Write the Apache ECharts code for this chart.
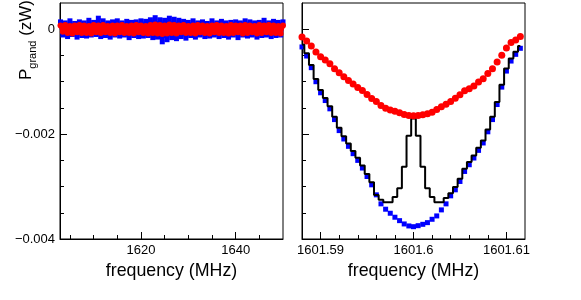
<!DOCTYPE html>
<html>
<head>
<meta charset="utf-8">
<script src="https://cdn.jsdelivr.net/npm/echarts@6/dist/echarts.min.js"></script>
<style>html,body{margin:0;padding:0;background:#fff;}#c{width:581px;height:300px;}</style>
</head>
<body>
<div id="c"></div>
<script>
// ---- data ----
const leftStart = 1603, leftStep = 0.5; // frequency sampling of left panel (MHz)
const blueLeft = [0.00014,-0.00011,0.00012,-0.00014,0.00016,-0.00010,0.00011,-0.00015,0.00014,-0.00012,
 0.00012,-0.00013,0.00017,-0.00011,0.00013,-0.00010,0.00021,-0.00014,0.00016,-0.00012,
 0.00012,-0.00015,0.00014,-0.00011,0.00016,-0.00013,0.00012,-0.00011,0.00015,-0.00016,
 0.00013,-0.00012,0.00014,-0.00014,0.00016,-0.00013,0.00015,-0.00012,0.00018,-0.00016,
 0.00022,-0.00015,0.00018,-0.00024,0.00017,-0.00020,0.00021,-0.00016,0.00019,-0.00018,
 0.00017,-0.00014,0.00015,-0.00017,0.00013,-0.00012,0.00016,-0.00015,0.00012,-0.00011,
 0.00014,-0.00014,0.00011,-0.00013,0.00016,-0.00011,0.00012,-0.00014,0.00015,-0.00012,
 0.00012,-0.00015,0.00013,-0.00011,0.00014,-0.00016,0.00012,-0.00011,0.00016,-0.00013,
 0.00014,-0.00011,0.00012,-0.00015,0.00013,-0.00012,0.00017,-0.00011,0.00012,-0.00014,
 0.00015,-0.00012,0.00013,-0.00011,0.00014];
const redLeft = [0.00007,-0.00005,0.00008,-0.00007,0.00006,-0.00008,0.00007,-0.00006,0.00008,-0.00007,
 0.00007,-0.00007,0.00006,-0.00008,0.00008,-0.00006,0.00007,-0.00007,0.00008,-0.00006,
 0.00006,-0.00007,0.00007,-0.00008,0.00007,-0.00006,0.00008,-0.00007,0.00006,-0.00007,
 0.00007,-0.00008,0.00008,-0.00006,0.00007,-0.00007,0.00006,-0.00008,0.00008,-0.00007,
 0.00009,-0.00008,0.00008,-0.00009,0.00007,-0.00008,0.00009,-0.00007,0.00008,-0.00008,
 0.00007,-0.00006,0.00008,-0.00007,0.00006,-0.00007,0.00007,-0.00008,0.00008,-0.00006,
 0.00007,-0.00007,0.00006,-0.00008,0.00007,-0.00006,0.00008,-0.00007,0.00007,-0.00007,
 0.00006,-0.00008,0.00008,-0.00007,0.00007,-0.00006,0.00007,-0.00008,0.00008,-0.00007,
 0.00007,-0.00006,0.00006,-0.00008,0.00008,-0.00007,0.00007,-0.00006,0.00008,-0.00007,
 0.00007,-0.00007,0.00006,-0.00008,0.00007];

const freqRight = [1601.588,1601.5885,1601.589,1601.5895,1601.59,1601.5905,1601.591,1601.5915,1601.592,1601.5925,
 1601.593,1601.5935,1601.594,1601.5945,1601.595,1601.5955,1601.596,1601.5965,1601.597,1601.5975,
 1601.598,1601.5985,1601.599,1601.5995,1601.6,1601.6005,1601.601,1601.6015,1601.602,1601.6025,
 1601.603,1601.6035,1601.604,1601.6045,1601.605,1601.6055,1601.606,1601.6065,1601.607,1601.6075,
 1601.608,1601.6085,1601.609,1601.6095,1601.61,1601.6105,1601.611,1601.6115];
const redRight = [-0.000147,-0.000223,-0.00032,-0.000434,-0.000523,-0.000587,-0.000657,-0.000753,-0.000829,-0.000906,
 -0.000976,-0.001046,-0.00111,-0.001168,-0.001244,-0.00132,-0.001378,-0.001455,-0.001506,-0.001538,
 -0.001563,-0.001595,-0.001627,-0.001646,-0.001652,-0.001646,-0.001633,-0.001614,-0.001582,-0.001531,
 -0.00148,-0.00143,-0.001378,-0.001314,-0.00125,-0.001174,-0.001136,-0.001085,-0.001008,-0.000944,
 -0.000842,-0.000753,-0.000625,-0.000498,-0.000357,-0.000255,-0.000204,-0.00014];
const blueRight = [-0.000338,-0.000511,-0.000733,-0.001001,-0.001212,-0.00136,-0.001518,-0.001723,-0.001933,-0.002093,
 -0.002233,-0.002373,-0.002501,-0.002647,-0.002808,-0.002967,-0.003158,-0.00333,-0.003432,-0.003509,
 -0.003585,-0.00365,-0.003713,-0.003751,-0.003765,-0.003746,-0.00372,-0.003688,-0.003624,-0.00356,
 -0.003445,-0.00333,-0.003177,-0.003062,-0.002903,-0.002712,-0.002584,-0.002456,-0.00231,-0.002169,
 -0.001956,-0.001723,-0.001436,-0.001104,-0.000798,-0.000607,-0.000479,-0.000364];
const blackRight = [-0.00029,-0.00046,-0.00068,-0.00095,-0.00116,-0.00131,-0.00147,-0.00167,-0.00188,-0.00204,
 -0.00218,-0.00232,-0.00245,-0.0026,-0.00276,-0.00292,-0.00316,-0.00325,-0.0033,-0.0033,
 -0.0032,-0.00303,-0.00262,-0.00203,-0.0017,-0.00203,-0.00262,-0.00303,-0.0032,-0.0033,
 -0.0033,-0.00322,-0.00313,-0.00301,-0.00285,-0.00266,-0.00253,-0.00241,-0.00226,-0.00212,
 -0.00191,-0.00167,-0.00139,-0.00106,-0.00075,-0.00056,-0.00043,-0.00032];

const leftMajorX = [1620, 1640];
const leftMinorX = [1605, 1610, 1615, 1625, 1630, 1635, 1645];
const rightMajorX = [1601.59, 1601.6, 1601.61];
const rightMinorX = [1601.592, 1601.594, 1601.596, 1601.598, 1601.602, 1601.604, 1601.606, 1601.608];
const majorY = [-0.004, -0.002, 0];
const minorY = [-0.0035, -0.003, -0.0025, -0.0015, -0.001, -0.0005];

// ---- build ----
const FONT = 'Liberation Sans';
const freqLeft = blueLeft.map((_, i) => leftStart + i * leftStep);
const pairs = (xs, ys) => ys.map((y, i) => [xs[i], y]);

function xAx(grid, min, max, major, minor, withName) {
  return [{
    type: 'value', gridIndex: grid, min, max, position: 'bottom',
    axisLine: { show: true, onZero: false, lineStyle: { color: '#000', width: 1 } },
    axisTick: { inside: true, length: 7, customValues: major, lineStyle: { color: '#000' } },
    axisLabel: { customValues: major, color: '#000', fontFamily: FONT, fontSize: 13, margin: 5,
      formatter: v => String(v) },
    splitLine: { show: false },
    name: withName ? 'frequency (MHz)' : '', nameLocation: 'middle', nameGap: 22,
    nameTextStyle: { color: '#000', fontFamily: FONT, fontSize: 17.8, verticalAlign: 'top' }
  }, {
    type: 'value', gridIndex: grid, min, max, position: 'bottom',
    axisLine: { show: false, onZero: false },
    axisTick: { inside: true, length: 4, customValues: minor, lineStyle: { color: '#000' } },
    axisLabel: { show: false }, splitLine: { show: false }
  }];
}
function yAx(grid, labels) {
  return [{
    type: 'value', gridIndex: grid, min: -0.004, max: 0.0005, position: 'left',
    axisLine: { show: true, onZero: false, lineStyle: { color: '#000', width: 1 } },
    axisTick: { inside: true, length: 7, customValues: majorY, lineStyle: { color: '#000' } },
    axisLabel: { show: labels, customValues: majorY, color: '#000', fontFamily: FONT, fontSize: 13, margin: 5,
      formatter: v => v === 0 ? '0' : (v < 0 ? '\u2212' + Math.abs(v) : String(v)) },
    splitLine: { show: false }
  }, {
    type: 'value', gridIndex: grid, min: -0.004, max: 0.0005, position: 'left',
    axisLine: { show: false, onZero: false },
    axisTick: { inside: true, length: 4, customValues: minorY, lineStyle: { color: '#000' } },
    axisLabel: { show: false }, splitLine: { show: false }
  }];
}

const chart = echarts.init(document.getElementById('c'), null, { renderer: 'canvas' });
chart.setOption({
  animation: false,
  backgroundColor: '#fff',
  grid: [
    { left: 60, top: 3, width: 223, height: 236, show: true, borderColor: '#000', borderWidth: 1 },
    { left: 302, top: 3, width: 223, height: 236, show: true, borderColor: '#000', borderWidth: 1 }
  ],
  xAxis: [...xAx(0, 1602.9, 1650, leftMajorX, leftMinorX, true), ...xAx(1, 1601.588, 1601.612, rightMajorX, rightMinorX, true)],
  yAxis: [...yAx(0, true), ...yAx(1, false)],
  graphic: [{
    type: 'text', x: 26, y: 40, rotation: Math.PI / 2,
    style: {
      text: '{p|P}{s|grand}{p| (zW)}', align: 'center', verticalAlign: 'middle', fill: '#000',
      rich: {
        p: { fontSize: 17, lineHeight: 17, fontFamily: FONT, verticalAlign: 'top', color: '#000' },
        s: { fontSize: 11, lineHeight: 11, fontFamily: FONT, verticalAlign: 'top', padding: [10, 0, 0, 0], color: '#000' }
      }
    }
  }],
  series: [
    { type: 'line', xAxisIndex: 0, yAxisIndex: 0, data: pairs(freqLeft, blueLeft),
      symbol: 'rect', symbolSize: 5, showSymbol: true, itemStyle: { color: '#0000ff', opacity: 1 },
      lineStyle: { color: '#0000ff', width: 4 }, z: 2 },
    { type: 'line', xAxisIndex: 0, yAxisIndex: 0, data: pairs(freqLeft, redLeft),
      symbol: 'circle', symbolSize: 6, showSymbol: true, itemStyle: { color: '#ff0000', opacity: 1 },
      lineStyle: { color: '#ff0000', width: 4 }, z: 4 },
    { type: 'scatter', xAxisIndex: 2, yAxisIndex: 2, data: pairs(freqRight, blueRight),
      symbol: 'rect', symbolSize: 5, itemStyle: { color: '#0000ff', opacity: 1 }, z: 2 },
    { type: 'line', xAxisIndex: 2, yAxisIndex: 2, data: pairs(freqRight, blackRight), step: 'middle',
      showSymbol: false, symbol: 'none', lineStyle: { color: '#000', width: 2 }, z: 3 },
    { type: 'scatter', xAxisIndex: 2, yAxisIndex: 2, data: pairs(freqRight, redRight),
      symbol: 'circle', symbolSize: 7, itemStyle: { color: '#ff0000', opacity: 1 }, z: 4 }
  ]
});
</script>
</body>
</html>
